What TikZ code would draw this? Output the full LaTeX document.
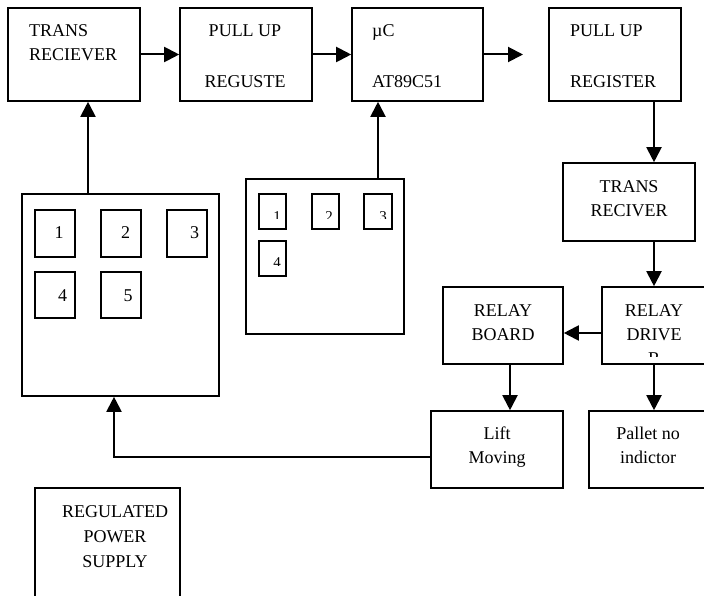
\documentclass[tikz,border=0pt]{standalone}
\usepackage{fontspec}
\setmainfont{Liberation Serif}
\usetikzlibrary{arrows.meta}
\begin{document}
\begin{tikzpicture}[x=1pt,y=-1pt,
  blk/.style={draw, line width=1.6pt, inner sep=0pt},
  key/.style={draw, line width=1.5pt, inner sep=0pt},
  txt/.style={font=\fontsize{18}{22}\selectfont, inner sep=0pt, anchor=base},
  ltxt/.style={txt, anchor=base west},
  stxt/.style={font=\fontsize{15}{18}\selectfont, inner sep=0pt, anchor=base},
  arr/.style={line width=2pt, -{Triangle[length=15pt,width=15pt]}},
  ln/.style={line width=2pt}]
\useasboundingbox (0,0) rectangle (704,596);
\clip (0,0) rectangle (704,596);
\fill[white] (0,0) rectangle (704,596);

% blocks
\node[blk, minimum width=132pt, minimum height=93pt] (TR1) at (74,54.5) {};
\node[blk, minimum width=132pt, minimum height=93pt] (PU1) at (246,54.5) {};
\node[blk, minimum width=131pt, minimum height=93pt] (UC) at (417.5,54.5) {};
\node[blk, minimum width=132pt, minimum height=93pt] (PU2) at (615,54.5) {};
\node[blk, minimum width=132pt, minimum height=78pt] (TR2) at (629,202) {};
\node[blk, minimum width=104pt, minimum height=77pt] (RD) at (654,325.5) {};
\node[blk, minimum width=120pt, minimum height=77pt] (RB) at (503,325.5) {};
\node[blk, minimum width=132pt, minimum height=77pt] (LM) at (497,449.5) {};
\node[blk, minimum width=118pt, minimum height=77pt] (PN) at (648,449.5) {};
\node[blk, minimum width=145pt, minimum height=132pt] (RPS) at (107.5,554) {};
\node[blk, minimum width=197pt, minimum height=202pt] (KP1) at (120.5,295) {};
\node[blk, minimum width=158pt, minimum height=155pt] (KP2) at (325,256.5) {};

% keys of keypad 1
\node[key, minimum width=40pt, minimum height=47pt] (ka1) at (55,233.5) {};
\node[key, minimum width=40pt, minimum height=47pt] (ka2) at (121,233.5) {};
\node[key, minimum width=40pt, minimum height=47pt] (ka3) at (187,233.5) {};
\node[key, minimum width=40pt, minimum height=46pt] (ka4) at (55,295) {};
\node[key, minimum width=40pt, minimum height=46pt] (ka5) at (121,295) {};
\node[txt] (na1) at (59,238) {1};
\node[txt] (na2) at (125.5,238) {2};
\node[txt] (na3) at (194.5,238) {3};
\node[txt] (na4) at (62.5,301) {4};
\node[txt] (na5) at (128,301) {5};

% keys of keypad 2
\node[key, minimum width=27pt, minimum height=35pt] (kb1) at (272.5,211.5) {};
\node[key, minimum width=27pt, minimum height=35pt] (kb2) at (325.5,211.5) {};
\node[key, minimum width=28pt, minimum height=35pt] (kb3) at (378,211.5) {};
\node[key, minimum width=27pt, minimum height=35pt] (kb4) at (272.5,258.5) {};
\begin{scope}
\clip (250,200) rectangle (400,219);
\node[stxt] (nb1) at (277,221.5) {1};
\node[stxt] (nb2) at (329,221.5) {2};
\node[stxt] (nb3) at (383,221.5) {3};
\end{scope}
\begin{scope}
\clip (250,245) rectangle (400,265);
\node[stxt] (nb4) at (277,267.5) {4};
\end{scope}

% texts
\node[ltxt] (t1a) at (29,37) {TRANS};
\node[ltxt] (t1b) at (29,61) {RECIEVER};
\node[txt] (t2a) at (245,37) {PULL UP};
\node[txt] (t2b) at (245,88) {REGUSTE};
\node[ltxt] (t3a) at (372,37) {µC};
\node[ltxt] (t3b) at (372,88) {AT89C51};
\node[ltxt] (t4a) at (570,37) {PULL UP};
\node[ltxt] (t4b) at (570,88) {REGISTER};
\node[txt] (t5a) at (629,193) {TRANS};
\node[txt] (t5b) at (629,217) {RECIVER};
\node[txt] (t6a) at (503,316) {RELAY};
\node[txt] (t6b) at (503,340) {BOARD};
\node[txt] (t7a) at (654,316) {RELAY};
\node[txt] (t7b) at (654,340) {DRIVE};
\begin{scope}
\clip (604,345) rectangle (704,356);
\node[txt] (t7c) at (654,364) {R};
\end{scope}
\node[txt] (t8a) at (497,439) {Lift};
\node[txt] (t8b) at (497,463) {Moving};
\node[txt] (t9a) at (648,439) {Pallet no};
\node[txt] (t9b) at (648,463) {indictor};
\node[txt] (t10a) at (115,517) {REGULATED};
\node[txt] (t10b) at (115,542) {POWER};
\node[txt] (t10c) at (115,567) {SUPPLY};

% connectors
\draw[arr] (TR1.east) -- (PU1.west);
\draw[arr] (PU1.east) -- (UC.west);
\coordinate (ucout) at (523,54.5);
\draw[arr] (UC.east) -- (ucout);
\draw[arr] (PU2.south -| RD.north) -- (TR2.north -| RD.north);
\draw[arr] (TR2.south -| RD.north) -- (RD.north);
\coordinate (rdw) at ([yshift=-7.5pt]RD.west);
\draw[arr] (rdw) -- (rdw -| RB.east);
\coordinate (rbs) at ([xshift=7pt]RB.south);
\draw[arr] (rbs) -- (rbs |- LM.north);
\draw[arr] (RD.south) -- (RD.south |- PN.north);
\coordinate (lmw) at ([yshift=-7.5pt]LM.west);
\coordinate (kp1s) at ([xshift=-6.5pt]KP1.south);
\draw[arr] (lmw) -| (kp1s);
\coordinate (kp1n) at ([xshift=-32.5pt]KP1.north);
\draw[arr] (kp1n) -- (kp1n |- TR1.south);
\coordinate (kp2n) at ([xshift=53pt]KP2.north);
\draw[arr] (kp2n) -- (kp2n |- UC.south);
\end{tikzpicture}
\end{document}
